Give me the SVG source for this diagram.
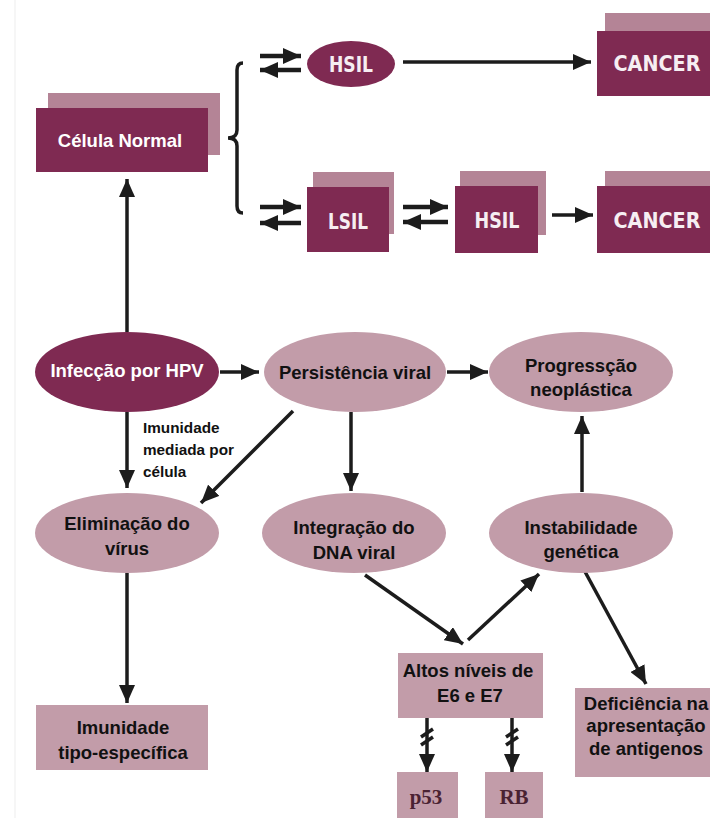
<svg xmlns="http://www.w3.org/2000/svg" width="710" height="818" viewBox="0 0 710 818">
<defs>
<style>
.dark{fill:#7f2a52}
.back{fill:#b48496}
.light{fill:#c29ca9}
.wt{fill:#ffffff;font-family:"Liberation Sans",Arial,sans-serif;font-weight:bold;font-size:18.5px;text-anchor:middle}
.cond{fill:#f6eef2;font-family:"Liberation Sans Narrow","DejaVu Sans Condensed","Liberation Sans",sans-serif;font-weight:bold;font-size:22px;text-anchor:middle}
.bt{fill:#111111;font-family:"Liberation Sans",Arial,sans-serif;font-weight:bold;font-size:18.5px;text-anchor:middle}
.lbl{fill:#111111;font-family:"Liberation Sans",Arial,sans-serif;font-weight:bold;font-size:15.3px}
.ser{fill:#4a2232;font-family:"Liberation Serif","Times New Roman",serif;font-weight:bold;font-size:21px;text-anchor:middle}
.ln{stroke:#1c1c1c;stroke-width:3.5;fill:none}
.lnb{stroke:#1c1c1c;stroke-width:4.5;fill:none}
</style>
<marker id="ahb" viewBox="0 0 18 16" refX="18" refY="8" markerWidth="18" markerHeight="16" markerUnits="userSpaceOnUse" orient="auto"><path d="M0,0 L18,8 L0,16 z" fill="#1c1c1c"/></marker>
</defs>
<rect x="0" y="0" width="710" height="818" fill="#ffffff"/>
<line x1="15" y1="0" x2="15" y2="818" stroke="#ededed" stroke-width="1"/>

<g id="connectors">
<path class="ln" d="M243,63 Q237,63 237,70 L237,130 Q237,138 228,138 Q237,138 237,146 L237,206 Q237,213 243,213"/>
<line class="lnb" x1="260" y1="56" x2="301" y2="56" marker-end="url(#ahb)"/>
<line class="lnb" x1="301" y1="70" x2="260" y2="70" marker-end="url(#ahb)"/>
<line class="ln" x1="403" y1="62" x2="591" y2="62" marker-end="url(#ahb)"/>
<line class="lnb" x1="260" y1="207" x2="301" y2="207" marker-end="url(#ahb)"/>
<line class="lnb" x1="301" y1="223" x2="260" y2="223" marker-end="url(#ahb)"/>
<line class="lnb" x1="403" y1="207" x2="448" y2="207" marker-end="url(#ahb)"/>
<line class="lnb" x1="448" y1="222" x2="403" y2="222" marker-end="url(#ahb)"/>
<line class="ln" x1="552" y1="215" x2="593" y2="215" marker-end="url(#ahb)"/>
<line class="ln" x1="127" y1="332" x2="127" y2="179" marker-end="url(#ahb)"/>
<line class="ln" x1="220" y1="372" x2="259" y2="372" marker-end="url(#ahb)"/>
<line class="ln" x1="447" y1="372" x2="488" y2="372" marker-end="url(#ahb)"/>
<line class="ln" x1="127" y1="412" x2="127" y2="488" marker-end="url(#ahb)"/>
<line class="ln" x1="293" y1="411" x2="201" y2="503" marker-end="url(#ahb)"/>
<line class="ln" x1="351" y1="412" x2="351" y2="491" marker-end="url(#ahb)"/>
<line class="ln" x1="582" y1="492" x2="582" y2="416" marker-end="url(#ahb)"/>
<line class="ln" x1="127" y1="573" x2="127" y2="703" marker-end="url(#ahb)"/>
<line class="ln" x1="365" y1="575" x2="463" y2="644" marker-end="url(#ahb)"/>
<line class="ln" x1="468" y1="640" x2="539" y2="574" marker-end="url(#ahb)"/>
<line class="ln" x1="583" y1="568" x2="646" y2="684" marker-end="url(#ahb)"/>
<line class="ln" x1="427" y1="718" x2="427" y2="772" marker-end="url(#ahb)"/>
<line class="ln" x1="512" y1="718" x2="512" y2="772" marker-end="url(#ahb)"/>
<path class="ln" stroke-width="2.5" d="M421,737 L433,729 M421,745 L433,737"/>
<path class="ln" stroke-width="2.5" d="M506,737 L518,729 M506,745 L518,737"/>
</g>

<g id="celula-normal">
<rect class="back" x="48" y="93" width="172" height="62"/>
<rect class="dark" x="36" y="108" width="172" height="64"/>
<text class="wt" x="120" y="147">Célula Normal</text>
</g>

<g id="hsil-top">
<ellipse class="dark" cx="351" cy="64" rx="44" ry="23"/>
<text class="cond" x="351" y="72" textLength="44" lengthAdjust="spacingAndGlyphs" font-size="20">HSIL</text>
</g>

<g id="cancer-top">
<rect class="back" x="605" y="13" width="105" height="60"/>
<rect class="dark" x="597" y="31" width="113" height="65"/>
<text class="cond" x="657" y="71" textLength="87" lengthAdjust="spacingAndGlyphs">CANCER</text>
</g>

<g id="lsil">
<rect class="back" x="313" y="172" width="81" height="62"/>
<rect class="dark" x="307" y="187" width="82" height="65"/>
<text class="cond" x="348" y="229" textLength="40" lengthAdjust="spacingAndGlyphs" font-size="20">LSIL</text>
</g>

<g id="hsil-box">
<rect class="back" x="460" y="171" width="86" height="64"/>
<rect class="dark" x="455" y="186" width="83" height="67"/>
<text class="cond" x="497" y="228" textLength="45" lengthAdjust="spacingAndGlyphs" font-size="20">HSIL</text>
</g>

<g id="cancer-bottom">
<rect class="back" x="605" y="171" width="105" height="60"/>
<rect class="dark" x="597" y="186" width="113" height="67"/>
<text class="cond" x="657" y="228" textLength="87" lengthAdjust="spacingAndGlyphs">CANCER</text>
</g>

<g id="infeccao">
<ellipse class="dark" cx="127" cy="372" rx="92" ry="40"/>
<text class="wt" x="127" y="377">Infecção por HPV</text>
</g>

<g id="persistencia">
<ellipse class="light" cx="355" cy="372" rx="91" ry="40"/>
<text class="bt" x="355" y="379">Persistência viral</text>
</g>

<g id="progressao">
<ellipse class="light" cx="581" cy="372" rx="92" ry="40"/>
<text class="bt" x="581" y="372">Progressção</text>
<text class="bt" x="581" y="396">neoplástica</text>
</g>

<g id="imunidade-label">
<text class="lbl" x="143" y="433">Imunidade</text>
<text class="lbl" x="143" y="455">mediada por</text>
<text class="lbl" x="143" y="477">célula</text>
</g>

<g id="eliminacao">
<ellipse class="light" cx="127" cy="533" rx="92" ry="40"/>
<text class="bt" x="127" y="530">Eliminação do</text>
<text class="bt" x="127" y="555">vírus</text>
</g>

<g id="integracao">
<ellipse class="light" cx="354" cy="533" rx="92" ry="40"/>
<text class="bt" x="354" y="534">Integração do</text>
<text class="bt" x="354" y="559">DNA viral</text>
</g>

<g id="instabilidade">
<ellipse class="light" cx="581" cy="533" rx="92" ry="40"/>
<text class="bt" x="581" y="534">Instabilidade</text>
<text class="bt" x="581" y="558">genética</text>
</g>

<g id="imunidade-tipo">
<rect class="light" x="36" y="705" width="172" height="65"/>
<text class="bt" x="123" y="734">Imunidade</text>
<text class="bt" x="123" y="759">tipo-específica</text>
</g>

<g id="altos-niveis">
<rect class="light" x="398" y="653" width="145" height="65"/>
<text class="bt" x="468" y="677">Altos níveis de</text>
<text class="bt" x="470" y="702">E6 e E7</text>
</g>

<g id="deficiencia">
<rect class="light" x="575" y="688" width="135" height="89"/>
<text class="bt" x="646" y="710">Deficiência na</text>
<text class="bt" x="646" y="732">apresentação</text>
<text class="bt" x="646" y="755">de antigenos</text>
</g>

<g id="p53">
<rect class="light" x="397" y="772" width="61" height="46"/>
<text class="ser" x="426" y="804">p53</text>
</g>

<g id="rb">
<rect class="light" x="485" y="772" width="58" height="46"/>
<text class="ser" x="514" y="804">RB</text>
</g>
</svg>
